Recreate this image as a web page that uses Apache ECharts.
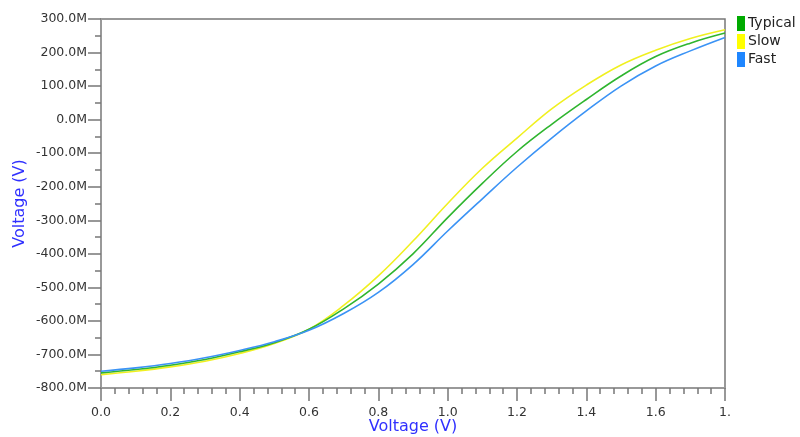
<!DOCTYPE html>
<html>
<head>
<meta charset="utf-8">
<script src="https://cdn.jsdelivr.net/npm/echarts@6/dist/echarts.min.js"></script>
<style>
  html, body { margin: 0; padding: 0; background: #fff; }
  #chart { width: 800px; height: 437px; }
</style>
</head>
<body>
<div id="chart"></div>
<script>
// sweep points (V) and curves in milli-volts (axis shows "M")
var sweep = [0.0, 0.1, 0.2, 0.3, 0.4, 0.5, 0.6, 0.7, 0.8, 0.9, 1.0, 1.1, 1.2, 1.3, 1.4, 1.5, 1.6, 1.7, 1.8]
var typical = [-755, -745, -732, -715, -692, -665, -625, -564, -490, -400, -292, -190, -95, -14, 60, 130, 188, 228, 258]
var slow = [-760, -750, -737, -720, -697, -667, -625, -554, -466, -362, -250, -145, -55, 32, 103, 163, 207, 242, 268]
var fast = [-750, -740, -727, -710, -688, -662, -628, -578, -515, -432, -332, -236, -142, -55, 26, 100, 160, 205, 245]
var seriesNames = ['Typical', 'Slow', 'Fast']
var lineColors = ['#2fb52f', '#f0f020', '#3b93f5']

function pairs (ys) {
  return sweep.map(function (x, i) { return [x, ys[i]] })
}

var chart = echarts.init(document.getElementById('chart'))
var option = {
  animation: false,
  color: lineColors,
  textStyle: { fontFamily: 'DejaVu Sans' },
  legend: {
    orient: 'vertical',
    left: 732,
    top: 11,
    itemWidth: 8,
    itemHeight: 15,
    itemGap: 3,
    icon: 'rect',
    textStyle: { fontSize: 14, color: '#222', padding: [0, 0, 0, -2] },
    data: [
      { name: 'Typical', itemStyle: { color: '#00aa00' } },
      { name: 'Slow', itemStyle: { color: '#ffff00' } },
      { name: 'Fast', itemStyle: { color: '#1e86ff' } }
    ]
  },
  grid: {
    left: 101,
    right: 75,
    top: 19,
    bottom: 49,
    outerBoundsMode: 'none',
    containLabel: false,
    show: true,
    borderColor: '#777',
    borderWidth: 1.5
  },
  xAxis: {
    type: 'value',
    min: 0,
    max: 1.8,
    interval: 0.2,
    name: 'Voltage (V)',
    nameLocation: 'middle',
    nameGap: 31,
    nameMoveOverlap: false,
    nameTextStyle: { color: '#3030ff', fontSize: 16 },
    axisLine: { onZero: false, lineStyle: { color: '#999', width: 2 } },
    axisTick: { length: 13, lineStyle: { color: '#777', width: 1.5 } },
    minorTick: { show: true, splitNumber: 5, length: 6, lineStyle: { color: '#777', width: 1.5 } },
    splitLine: { show: false },
    axisLabel: {
      color: '#333',
      fontSize: 12.5,
      margin: 18,
      formatter: function (v) { return v >= 1.8 ? '1.' : v.toFixed(1) }
    }
  },
  yAxis: {
    type: 'value',
    min: -800,
    max: 300,
    interval: 100,
    name: 'Voltage (V)',
    nameLocation: 'middle',
    nameGap: 73,
    nameMoveOverlap: false,
    nameTextStyle: { color: '#3030ff', fontSize: 16 },
    axisLine: { onZero: false, lineStyle: { color: '#999', width: 2 } },
    axisTick: { length: 13, lineStyle: { color: '#777', width: 1.5 } },
    minorTick: { show: true, splitNumber: 2, length: 6, lineStyle: { color: '#777', width: 1.5 } },
    splitLine: { show: false },
    axisLabel: {
      color: '#333',
      fontSize: 12.5,
      margin: 14,
      formatter: function (v) { return v.toFixed(1) + 'M' }
    }
  },
  series: [
    { name: seriesNames[0], type: 'line', showSymbol: false, smooth: 0.4, lineStyle: { width: 1.6 }, z: 3, data: pairs(typical) },
    { name: seriesNames[1], type: 'line', showSymbol: false, smooth: 0.4, lineStyle: { width: 1.6 }, z: 2, data: pairs(slow) },
    { name: seriesNames[2], type: 'line', showSymbol: false, smooth: 0.4, lineStyle: { width: 1.6 }, z: 4, data: pairs(fast) }
  ]
}
chart.setOption(option)
</script>
</body>
</html>
